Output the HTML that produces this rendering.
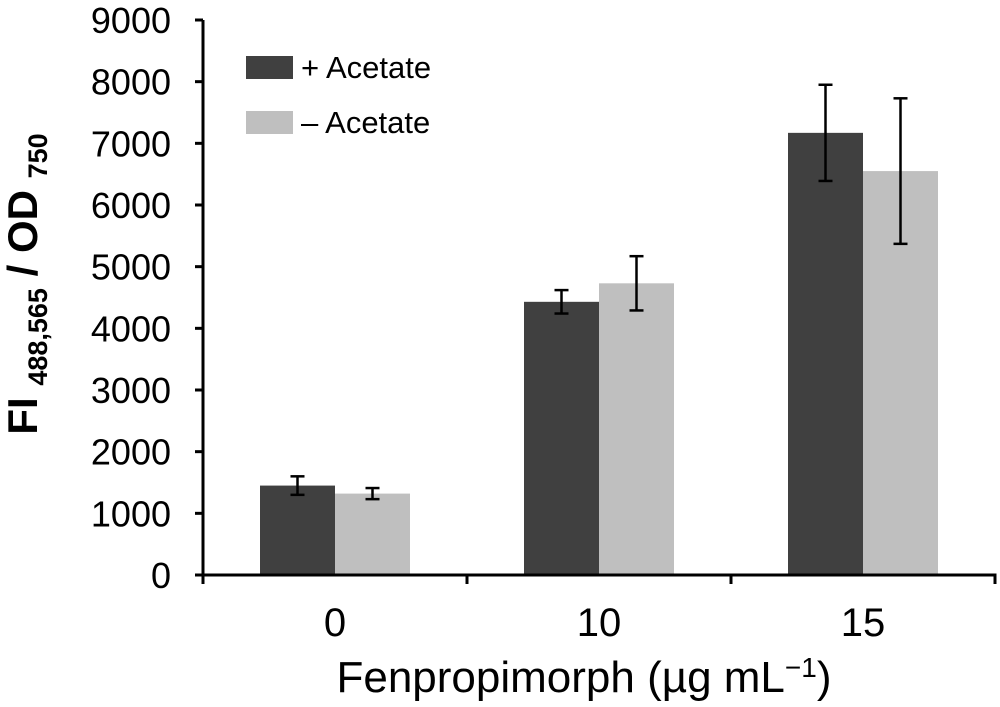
<!DOCTYPE html>
<html><head><meta charset="utf-8"><style>
body{margin:0;background:#fff;}
svg{display:block;font-family:"Liberation Sans",Arial,sans-serif;}
</style></head><body>
<svg id="chart" width="1000" height="707" viewBox="0 0 1000 707"></svg>
<script>
const categories = ["0","10","15"];
const plusAcetate = [1450, 4430, 7170];
const plusErr = [150, 190, 780];
const minusAcetate = [1320, 4730, 6550];
const minusErr = [90, 440, 1180];
const yTicks = [0,1000,2000,3000,4000,5000,6000,7000,8000,9000];

const NS="http://www.w3.org/2000/svg";
const svg=document.getElementById('chart');
const x0=203, x1=995, yBase=575, yTop=20, yMax=9000;
const y=v=>yBase-(v/yMax)*(yBase-yTop);
const groupW=(x1-x0)/categories.length;
const barW=75;
function mk(tag,attrs,parent){const e=document.createElementNS(NS,tag);for(const k in attrs)e.setAttribute(k,attrs[k]);(parent||svg).appendChild(e);return e;}

const series=[{vals:plusAcetate,err:plusErr,color:"#404040",name:"plus"},{vals:minusAcetate,err:minusErr,color:"#bfbfbf",name:"minus"}];
categories.forEach((c,i)=>{
  const cx=x0+groupW*(i+0.5);
  series.forEach((s,j)=>{
    const bx=cx-barW+j*barW;
    const r=mk('rect',{x:bx,y:y(s.vals[i]),width:barW,height:yBase-y(s.vals[i]),fill:s.color});
    
    
    const ex=bx+barW/2, hi=y(s.vals[i]+s.err[i]), lo=y(s.vals[i]-s.err[i]);
    const g=mk('g',{stroke:"#000","stroke-width":2.5});
    
    
    mk('line',{x1:ex,x2:ex,y1:hi,y2:lo},g);
    mk('line',{x1:ex-7,x2:ex+7,y1:hi,y2:hi},g);
    mk('line',{x1:ex-7,x2:ex+7,y1:lo,y2:lo},g);
  });
  const t=mk('text',{x:cx,y:636,"text-anchor":"middle","font-size":40,fill:"#000"});
  t.textContent=c;
  
  
});
const ax=mk('g',{stroke:"#000","stroke-width":3});


mk('line',{x1:x0,x2:x0,y1:yTop,y2:yBase+1.5},ax);
mk('line',{x1:x0-8,x2:x1+1.5,y1:yBase,y2:yBase},ax);
for(let i=0;i<=categories.length;i++){const tx=x0+groupW*i;mk('line',{x1:tx,x2:tx,y1:yBase,y2:yBase+9},ax);}
yTicks.forEach(v=>{
  mk('line',{x1:x0-8,x2:x0,y1:y(v),y2:y(v)},ax);
  const t=mk('text',{x:171,y:y(v)+13,"text-anchor":"end","font-size":36,fill:"#000"});
  t.textContent=v;
  
  
});
</script>
<svg style="position:absolute;left:0;top:0" width="1000" height="707">
<text x="584" y="692" text-anchor="middle" font-size="44" font-family="Liberation Sans,sans-serif">Fenpropimorph (µg mL<tspan dy="-15" font-size="28">−1</tspan><tspan dy="15">)</tspan></text>
<text transform="translate(37,284) rotate(-90)" text-anchor="middle" font-size="42" font-weight="bold" font-family="Liberation Sans,sans-serif">FI <tspan dy="10" font-size="27">488,565</tspan><tspan dy="-10"> / OD </tspan><tspan dy="10" font-size="27">750</tspan></text>
<g font-family="Liberation Sans,sans-serif" font-size="31">
<rect x="246" y="56" width="47" height="23" fill="#404040"/>
<text x="301" y="78">+ Acetate</text>
<rect x="246" y="111" width="47" height="23" fill="#bfbfbf"/>
<text x="301" y="133">– Acetate</text>
</g>
</svg>
</body></html>
